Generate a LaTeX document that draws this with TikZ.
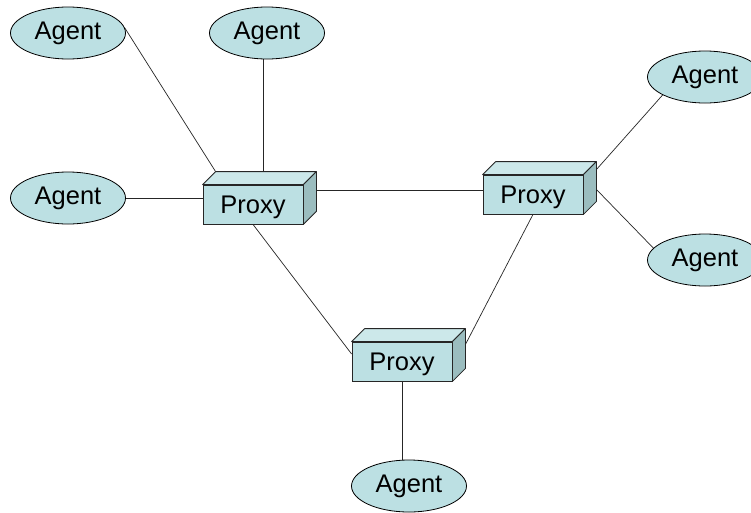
\documentclass[tikz,border=0pt]{standalone}
\usepackage{fontspec}
\setmainfont{Liberation Sans}
\usetikzlibrary{shapes.geometric,calc,backgrounds}
\definecolor{facefront}{HTML}{BCE0E3}
\definecolor{facetop}{HTML}{CCE8EA}
\definecolor{faceside}{HTML}{9BBDBF}
\definecolor{agentfill}{HTML}{BCE0E3}
\tikzset{
  agent/.style={ellipse, draw=black, line width=0.8pt, fill=agentfill,
    minimum width=115pt, minimum height=52pt, inner sep=0pt,
    font=\fontsize{25.5}{30}\selectfont},
  proxy/.style={rectangle, draw=black!85, line width=0.8pt, fill=facefront,
    minimum width=100pt, minimum height=39pt, inner sep=0pt,
    text height=20pt, text depth=3pt,
    font=\fontsize{25.5}{30}\selectfont},
  link/.style={line width=0.7pt, draw=black!85},
  face/.style={draw=black!85, line width=0.8pt, line join=round}
}
\begin{document}
\begin{tikzpicture}[x=1pt,y=-1pt]
  \useasboundingbox (0,0) rectangle (751,512);

  % agents
  \node[agent] (a1) at (68,33)  {Agent};
  \node[agent] (a2) at (267,33) {Agent};
  \node[agent] (a3) at (68,198) {Agent};
  \node[agent] (a4) at (705,77) {Agent};
  \node[agent] (a5) at (705,260) {Agent};
  \node[agent] (a6) at (409,486) {Agent};

  % proxies: front face as node, top and side faces added
  \node[proxy] (p1) at (253,204.5) {Proxy};
  \node[proxy] (p2) at (533,194.5) {Proxy};
  \node[proxy] (p3) at (402,361.5) {Proxy};
  \foreach \p in {p1,p2,p3} {
    \coordinate (\p-tl) at ($(\p.north west)+(13,-13)$);
    \coordinate (\p-tr) at ($(\p.north east)+(13,-13)$);
    \coordinate (\p-br) at ($(\p.south east)+(13,-13)$);
    \draw[face, fill=facetop] (\p.north west) -- (\p-tl) -- (\p-tr) -- (\p.north east) -- cycle;
    \draw[face, fill=faceside] (\p.north east) -- (\p-tr) -- (\p-br) -- (\p.south east) -- cycle;
  }

  % connectors, kept behind the shapes
  \begin{pgfonlayer}{background}
    \fill[white] (0,0) rectangle (751,512);
    \draw[link] (a1.5) -- (p1-tl);
    \draw[link] (a2.south) ++(-4,0) coordinate (a2b) -- (a2b |- p1-tl);
    \draw[link] (a3) -- (a3 -| p1.west);
    \draw[link] ([yshift=4.5pt]p2.west) -- ([yshift=4.5pt]p2.west -| p1-tr);
    \draw[link] (p1.south) -- ([yshift=7.5pt]p3.west);
    \draw[link] (p2.south) -- ($(p3-tr)!0.4!(p3-br)$);
    \draw[link] ($(p2-tr)!0.2!(p2-br)$) -- (a4.203);
    \draw[link] ($(p2-tr)!0.7!(p2-br)$) -- (a5.167);
    \draw[link] (p3.south) -- (p3.south |- a6.north);
  \end{pgfonlayer}
\end{tikzpicture}
\end{document}
